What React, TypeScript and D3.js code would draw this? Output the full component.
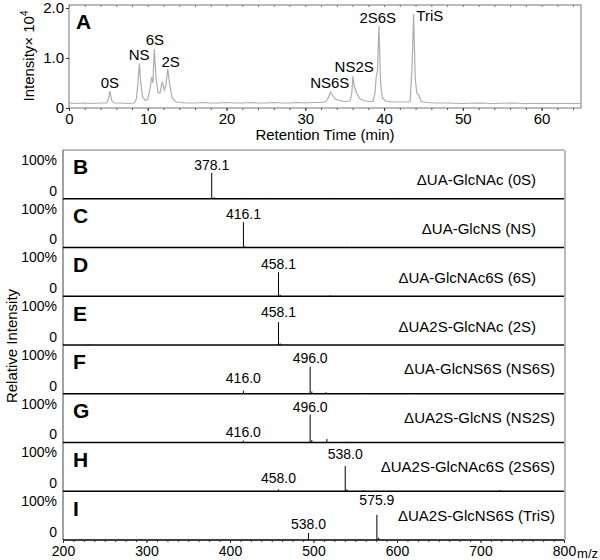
import { useEffect, useRef } from "react";
import * as d3 from "d3";

// chromatogram trace: [retention time (min), intensity x10^4]
const chromTrace: [number, number][] = [
  [0, 0.1], [1, 0.09], [2, 0.1], [3, 0.09], [4, 0.1], [4.8, 0.1], [5.0, 0.18], [5.2, 0.34], [5.4, 0.16], [5.7, 0.1],
  [6.5, 0.1], [7.5, 0.09], [8.3, 0.1], [8.55, 0.18], [8.75, 0.5], [8.93, 0.89], [9.1, 0.5], [9.35, 0.22], [9.7, 0.15],
  [10.0, 0.17], [10.3, 0.4], [10.5, 0.62], [10.65, 0.5], [10.83, 1.18], [11.05, 0.6], [11.3, 0.3], [11.55, 0.3],
  [11.85, 0.52], [12.1, 0.36], [12.3, 0.45], [12.53, 0.78], [12.8, 0.45], [13.1, 0.2], [13.5, 0.13], [14, 0.11],
  [15, 0.1], [16, 0.1], [17, 0.11], [18, 0.1], [19, 0.1], [20, 0.11], [21, 0.1], [22, 0.1], [23, 0.11], [24, 0.1],
  [25, 0.1], [26, 0.11], [27, 0.1], [28, 0.1], [29, 0.11], [30, 0.1], [31, 0.11], [32, 0.11], [32.6, 0.13],
  [32.9, 0.2], [33.2, 0.32], [33.45, 0.26], [33.8, 0.18], [34.3, 0.15], [35, 0.13], [35.7, 0.14], [35.9, 0.3],
  [36.05, 0.64], [36.2, 0.45], [36.5, 0.3], [36.9, 0.19], [37.4, 0.15], [38, 0.13], [38.6, 0.13], [38.85, 0.3],
  [39.0, 0.62], [39.15, 0.72], [39.35, 1.64], [39.55, 0.5], [39.8, 0.2], [40.2, 0.14], [41, 0.12], [42, 0.12],
  [43, 0.12], [43.3, 0.13], [43.55, 0.8], [43.75, 1.88], [43.95, 0.6], [44.15, 0.3], [44.4, 0.26], [44.7, 0.13],
  [45.5, 0.11], [46.5, 0.1], [48, 0.1], [50, 0.09], [52, 0.1], [54, 0.09], [56, 0.1], [58, 0.09], [60, 0.09],
  [62, 0.09], [65, 0.09],
];

// peak labels: [text, time, height]
const chromLabels: [string, number, number][] = [
  ["0S", 5.2, 0.5], ["NS", 8.9, 1.06], ["6S", 10.9, 1.36], ["2S", 12.9, 0.92],
  ["NS6S", 33.1, 0.5], ["NS2S", 36.2, 0.82], ["2S6S", 39.2, 1.8], ["TriS", 45.8, 1.84],
];

const rtTicks = [0, 10, 20, 30, 40, 50, 60];
const intTicks = [0, 1, 2];
const mzTicks = [200, 300, 400, 500, 600, 700, 800];

const panelLetters = ["B", "C", "D", "E", "F", "G", "H", "I"];
const panelNames = [
  "\u0394UA-GlcNAc (0S)",
  "\u0394UA-GlcNS (NS)",
  "\u0394UA-GlcNAc6S (6S)",
  "\u0394UA2S-GlcNAc (2S)",
  "\u0394UA-GlcNS6S (NS6S)",
  "\u0394UA2S-GlcNS (NS2S)",
  "\u0394UA2S-GlcNAc6S (2S6S)",
  "\u0394UA2S-GlcNS6S (TriS)",
];
// sticks per panel: [m/z, relative %]
const panelPeaks: [number, number][][] = [
  [[378.1, 67], [381, 4], [420, 2], [445, 2], [520, 2], [600, 2]],
  [[416.1, 65], [418, 3], [540, 2]],
  [[458.1, 62], [460, 4], [520, 2]],
  [[458.1, 59], [460, 4], [230, 2]],
  [[416.0, 8], [496.0, 70], [498, 6], [515, 4], [560, 2], [620, 2]],
  [[416.0, 5], [496.0, 72], [498, 6], [516, 9], [540, 2]],
  [[458.0, 5], [538.0, 65], [540, 5], [560, 3], [723, 3]],
  [[494, 18], [575.9, 65], [578, 6]],
];
// peak labels per panel: [text, m/z, label height %]
const panelLabels: [string, number, number][][] = [
  [["378.1", 378.1, 87]],
  [["416.1", 416.1, 87]],
  [["458.1", 458.1, 82]],
  [["458.1", 458.1, 85]],
  [["416.0", 416.0, 40], ["496.0", 496.0, 92]],
  [["416.0", 416.0, 27], ["496.0", 496.0, 92]],
  [["458.0", 458.0, 35], ["538.0", 538.0, 97]],
  [["538.0", 494, 40], ["575.9", 575.9, 103]],
];

const FONT = "'Liberation Sans', Arial, sans-serif";

export default function App() {
  const svgRef = useRef<SVGSVGElement>(null);

  useEffect(() => {
    const svg = d3.select(svgRef.current);
    svg.selectAll("*").remove();
    svg.style("font-family", FONT);

    // ---------- chromatogram (A) ----------
    const x = d3.scaleLinear().domain([0, 65]).range([69, 581]);
    const y = d3.scaleLinear().domain([0, 2]).range([108, 8]);

    svg.append("rect")
      .attr("x", x(0)).attr("y", y(2.06))
      .attr("width", x(65) - x(0)).attr("height", y(0) - y(2.06))
      .attr("fill", "none").attr("stroke", "#777").attr("stroke-width", 1);

    const xMinor = d3.axisBottom(x).tickValues(d3.range(0, 66, 2)).tickSize(2).tickFormat(() => "");
    svg.append("g").attr("transform", `translate(0,${y(0)})`).call(xMinor)
      .call((g) => g.select(".domain").remove())
      .selectAll("line").attr("stroke", "#555");
    const xTop = d3.axisBottom(x).tickValues(d3.range(0, 66, 2)).tickSize(2).tickFormat(() => "");
    svg.append("g").attr("transform", `translate(0,${y(2.06)})`).call(xTop)
      .call((g) => g.select(".domain").remove())
      .selectAll("line").attr("stroke", "#777");

    const xAxis = d3.axisBottom(x).tickValues(rtTicks).tickSize(3).tickPadding(2);
    const gx = svg.append("g").attr("transform", `translate(0,${y(0)})`).call(xAxis);
    gx.select(".domain").remove();
    gx.selectAll("line").attr("stroke", "#333");
    gx.selectAll("text").attr("font-size", 15).attr("font-family", FONT).attr("fill", "#000");

    const yAxis = d3.axisLeft(y).tickValues(intTicks).tickSize(3).tickPadding(2)
      .tickFormat((d) => (d === 0 ? "0" : d3.format(".1f")(d as number)));
    const gy = svg.append("g").attr("transform", `translate(${x(0)},0)`).call(yAxis);
    gy.select(".domain").remove();
    gy.selectAll("line").attr("stroke", "#333");
    gy.selectAll("text").attr("font-size", 15).attr("font-family", FONT).attr("fill", "#000");

    const line = d3.line<[number, number]>().x((d) => x(d[0])).y((d) => y(d[1]));
    svg.append("path").datum(chromTrace)
      .attr("d", line).attr("fill", "none").attr("stroke", "#adadad").attr("stroke-width", 1.2);

    svg.append("g").selectAll("text").data(chromLabels).join("text")
      .attr("x", (d) => x(d[1])).attr("y", (d) => y(d[2])).attr("dy", "0.35em")
      .attr("text-anchor", "middle").attr("font-size", 15).text((d) => d[0]);

    svg.append("text").attr("x", 76).attr("y", 29).attr("font-size", 21)
      .attr("font-weight", "bold").text("A");

    svg.append("text").attr("x", x(32.5)).attr("y", 140).attr("text-anchor", "middle")
      .attr("font-size", 15).text("Retention Time (min)");

    const yl = svg.append("text").attr("transform", `translate(34,56) rotate(-90)`)
      .attr("text-anchor", "middle").attr("font-size", 15);
    yl.append("tspan").text("Intensity\u00d7 10");
    yl.append("tspan").attr("font-size", 10).attr("dy", -6).text("4");

    // ---------- mass spectra (B-I) ----------
    const mx = d3.scaleLinear().domain([200, 800]).range([63, 564]);
    const top0 = 150;
    const bottom = 540;
    const band = d3.scaleBand<string>().domain(panelLetters).range([top0, bottom]).paddingInner(0);
    const ph = band.bandwidth();

    svg.append("line").attr("x1", mx(200)).attr("x2", mx(800)).attr("y1", top0).attr("y2", top0)
      .attr("stroke", "#777");
    svg.append("line").attr("x1", mx(800) + 1).attr("x2", mx(800) + 1).attr("y1", top0).attr("y2", bottom)
      .attr("stroke", "#777");
    svg.append("line").attr("x1", mx(200)).attr("x2", mx(200)).attr("y1", top0).attr("y2", bottom)
      .attr("stroke", "#444");

    panelLetters.forEach((letter, i) => {
      const t = band(letter) as number;
      const b = t + ph;
      const py = d3.scaleLinear().domain([0, 100]).range([b, t + 10]);
      const g = svg.append("g");

      g.append("text").attr("x", 57).attr("y", py(100)).attr("dy", "0.35em")
        .attr("text-anchor", "end").attr("font-size", 14).text("100%");
      g.append("text").attr("x", 57).attr("y", py(0) - 8).attr("dy", "0.35em")
        .attr("text-anchor", "end").attr("font-size", 14).text("0");

      g.append("text").attr("x", 73).attr("y", t + 17).attr("dy", "0.35em")
        .attr("font-size", 21).attr("font-weight", "bold").text(letter);

      const nameEnd = i < 4 ? 536 : 555;
      g.append("text").attr("x", nameEnd).attr("y", i < 4 ? t + 30 : t + 24).attr("dy", "0.35em")
        .attr("text-anchor", "end").attr("font-size", 15).text(panelNames[i]);

      g.append("line").attr("x1", mx(200)).attr("x2", mx(800)).attr("y1", b).attr("y2", b)
        .attr("stroke", "#000").attr("stroke-width", 1.5);

      g.selectAll(".stick").data(panelPeaks[i]).join("line")
        .attr("x1", (d) => mx(d[0])).attr("x2", (d) => mx(d[0]))
        .attr("y1", b).attr("y2", (d) => py(d[1]))
        .attr("stroke", "#000").attr("stroke-width", 1);

      g.selectAll(".lbl").data(panelLabels[i]).join("text")
        .attr("x", (d) => mx(d[1])).attr("y", (d) => py(d[2])).attr("dy", "0.35em")
        .attr("text-anchor", "middle").attr("font-size", 14).text((d) => d[0]);
    });

    const mMinor = d3.axisBottom(mx).tickValues(d3.range(200, 801, 12.5)).tickSize(2).tickFormat(() => "");
    svg.append("g").attr("transform", `translate(0,${bottom})`).call(mMinor)
      .call((gg) => gg.select(".domain").remove())
      .selectAll("line").attr("stroke", "#333");
    const mAxis = d3.axisBottom(mx).tickValues(mzTicks).tickSize(3).tickPadding(3);
    const gm = svg.append("g").attr("transform", `translate(0,${bottom})`).call(mAxis);
    gm.select(".domain").remove();
    gm.selectAll("line").attr("stroke", "#333");
    gm.selectAll("text").attr("font-size", 14).attr("font-family", FONT).attr("fill", "#000");

    svg.append("text").attr("x", 598).attr("y", 553).attr("dy", "0.35em")
      .attr("text-anchor", "end").attr("font-size", 13).text("m/z");

    svg.append("text").attr("transform", `translate(17,346) rotate(-90)`)
      .attr("text-anchor", "middle").attr("font-size", 15).text("Relative Intensity");
  }, []);

  return (
    <svg ref={svgRef} width={600} height={560}
      style={{ position: "absolute", left: 0, top: 0, background: "#fff" }} />
  );
}
